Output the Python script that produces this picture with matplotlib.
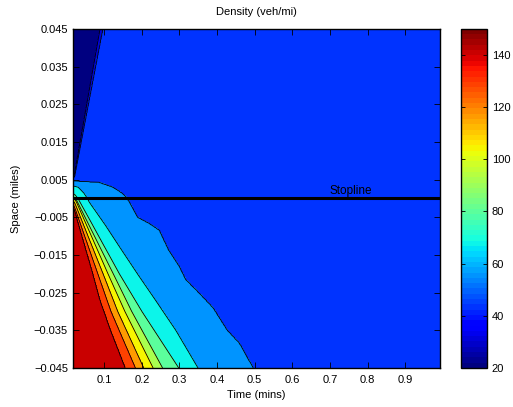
import numpy as np
import matplotlib.pyplot as plt
from matplotlib.colors import Normalize
from matplotlib.cm import ScalarMappable

plt.rcParams['font.family'] = ['Liberation Sans', 'DejaVu Sans']

# contour levels (veh/mi) and colour limits
levels = [20, 32, 44, 56, 68, 80, 92, 104, 116, 128, 140, 151]
clim = [20, 150]
cbar_ticks = [20, 40, 60, 80, 100, 120, 140]
xticks = [0.1, 0.2, 0.3, 0.4, 0.5, 0.6, 0.7, 0.8, 0.9]
yticks = [0.045, 0.035, 0.025, 0.015, 0.005, -0.005, -0.015, -0.025, -0.035, -0.045]
t_range = [1/60, 0.993]
s_range = [-0.045, 0.045]

# upstream queue discharge: where each density level is crossed (space, time)
b140_s = [-0.045, -0.035, -0.027, -0.019, -0.01, -0.003, -0.0019]
b140_t = [0.155, 0.116, 0.088, 0.066, 0.040, 0.02, 0.0]
b128_s = [-0.045, -0.03, -0.02, -0.01, -0.002, -0.001]
b128_t = [0.183, 0.118, 0.083, 0.048, 0.02, 0.0]
b116_s = [-0.045, -0.03, -0.02, -0.01, -0.001, -0.0004]
b116_t = [0.205, 0.136, 0.097, 0.057, 0.021, 0.0]
b104_s = [-0.045, -0.03, -0.02, -0.01, 0.0, 0.0006]
b104_t = [0.230, 0.155, 0.110, 0.066, 0.022, 0.0]
b92_s = [-0.045, -0.03, -0.02, -0.01, 0.0, 0.0012]
b92_t = [0.255, 0.173, 0.124, 0.074, 0.024, 0.0]
b80_s = [-0.045, -0.03, -0.02, -0.01, 0.0, 0.001, 0.0022]
b80_t = [0.298, 0.200, 0.140, 0.085, 0.030, 0.022, 0.0]
b68_s = [-0.045, -0.035, -0.027, -0.0203, -0.0131, -0.007, -0.001, 0.0, 0.0015, 0.003, 0.0036]
b68_t = [0.349, 0.290, 0.236, 0.190, 0.142, 0.102, 0.060, 0.055, 0.045, 0.030, 0.0]
b56_s = [-0.045, -0.0384, -0.035, -0.029, -0.025, -0.0216, -0.018, -0.0137, -0.0084,
         -0.0066, -0.005, 0.0, 0.0014, 0.0031, 0.0043, 0.0046, 0.0048]
b56_t = [0.497, 0.460, 0.428, 0.390, 0.352, 0.318, 0.300, 0.272, 0.247,
         0.220, 0.190, 0.162, 0.149, 0.122, 0.087, 0.030, 0.0]

# downstream front of released vehicles
front_s = [0.0035, 0.0058, 0.045]
front32_t = [0.0, 0.020, 0.089]
front44_t = [0.0, 0.0215, 0.097]

tail_levels = [140, 128, 116, 104, 92, 80, 68, 56]
tail_bounds = [(b140_s, b140_t), (b128_s, b128_t), (b116_s, b116_t), (b104_s, b104_t),
               (b92_s, b92_t), (b80_s, b80_t), (b68_s, b68_t), (b56_s, b56_t)]

t = np.linspace(t_range[0], t_range[1], 600)
s = np.linspace(s_range[0], s_range[1], 600)
T, S = np.meshgrid(t, s)
D = np.zeros_like(T)

for i, si in enumerate(s):
    times = np.array([np.interp(si, bs, bt) for bs, bt in tail_bounds])
    times = np.maximum.accumulate(times) + np.arange(len(times)) * 1e-6
    tail = np.interp(t, times, tail_levels, left=150, right=50)
    f32 = np.interp(si, front_s, front32_t)
    f44 = max(np.interp(si, front_s, front44_t), f32 + 1e-4)
    front = np.interp(t, [f32 - 0.01, f32, f44, f44 + 0.003], [22, 32, 44, 150])
    D[i] = np.minimum(front, tail)

cmap = plt.get_cmap('jet', 64)
norm = Normalize(clim[0], clim[1])
fill_colors = [cmap(norm(v)) for v in levels[:-1]]

fig = plt.figure(figsize=(5.13, 4.07), dpi=100)
ax = fig.add_axes([0.142, 0.096, 0.716, 0.833])
ax.contourf(T, S, D, levels=levels, colors=fill_colors)
ax.contour(T, S, D, levels=levels[1:-1], colors='k', linewidths=0.6)

ax.plot(t_range, [0, 0], color='k', linewidth=2.2)
ax.text(0.698, 0.0005, 'Stopline', fontsize=8.5, va='bottom', ha='left')

ax.set_xlim(t_range)
ax.set_ylim(s_range)
ax.set_xticks(xticks)
ax.set_xticklabels([f"{v:g}" for v in xticks])
ax.set_yticks(yticks)
ax.set_yticklabels([f"{v:g}".replace('-', '\u2212') for v in yticks])
ax.tick_params(direction='in', top=True, right=True, length=4, labelsize=8, width=0.6)
ax.tick_params(axis='x', pad=5)
for sp in ax.spines.values():
    sp.set_linewidth(1.0)
ax.set_xlabel('Time (mins)', fontsize=8, labelpad=4)
ax.set_ylabel('Space (miles)', fontsize=8, labelpad=9)
ax.set_title('Density (veh/mi)', fontsize=8, pad=10)

cax = fig.add_axes([0.8986, 0.096, 0.0507, 0.833])
cb = fig.colorbar(ScalarMappable(norm=norm, cmap=cmap), cax=cax, ticks=cbar_ticks)
cb.outline.set_linewidth(1.0)
cax.tick_params(direction='in', left=True, right=True, length=3, labelsize=8, width=0.6)

plt.savefig('out.png', dpi=100)
